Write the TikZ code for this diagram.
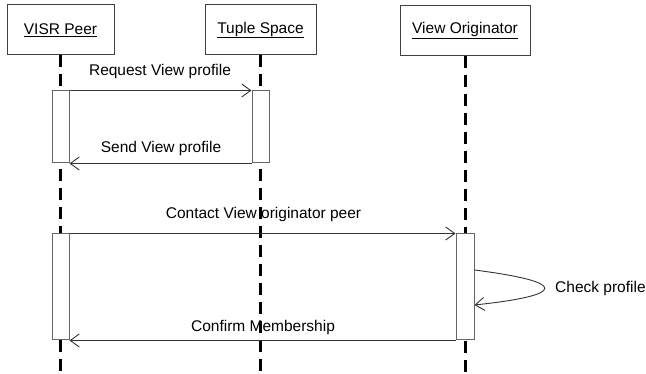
\documentclass[tikz,border=0pt]{standalone}
\usepackage{fontspec}
\setmainfont{Liberation Sans}
\usetikzlibrary{arrows.meta}
\begin{document}
\begin{tikzpicture}[x=1pt,y=-1pt,
  font=\fontsize{15.5}{18}\selectfont,
  head/.style={draw=black!75, line width=1pt, minimum height=50pt, inner sep=0pt, fill=white},
  lifeline/.style={line width=3pt, dash pattern=on 12pt off 7pt},
  actbox/.style={draw=black!60, line width=1pt, fill=white, minimum width=17pt, inner sep=0pt},
  msg/.style={draw=black!80, line width=0.9pt, -{Straight Barb[length=9pt,width=13pt,line width=0.9pt]}},
  lbl/.style={anchor=base, inner sep=0pt}]
\useasboundingbox (0,0) rectangle (646,374);

% object heads
\node[head, minimum width=107pt] (visr)  at (60.5,30)  {\underline{VISR Peer}};
\node[head, minimum width=111pt] (tuple) at (260.5,30) {\underline{Tuple Space}};
\node[head, minimum width=130pt] (orig)  at (465,30.5) {\underline{View Originator}};

% lifeline ends
\coordinate (visrEnd)  at (visr.south  |- 0,374);
\coordinate (tupleEnd) at (tuple.south |- 0,374);
\coordinate (origEnd)  at (orig.south  |- 0,374);
\draw[lifeline] (visr.south)  -- (visrEnd);
\draw[lifeline] (tuple.south) -- (tupleEnd);
\draw[lifeline] (orig.south)  -- (origEnd);

% activation bars
\node[actbox, minimum height=72pt]  (a1) at (60.5,127)  {};
\node[actbox, minimum height=72pt]  (a2) at (260.5,127) {};
\node[actbox, minimum height=106pt] (a3) at (60.5,287)  {};
\node[actbox, minimum height=106pt, minimum width=18pt] (a4) at (465,287) {};

% messages
\draw[msg] (a1.north east) -- (a2.north west);
\draw[msg] (a2.south west) -- (a1.south east);
\draw[msg] (a3.north east) -- (a4.north west);
\draw[msg] (a4.south west) -- (a3.south east);
\coordinate (selfA) at ([yshift=17pt]a4.east);
\coordinate (selfB) at ([yshift=-18pt]a4.east);
\draw[msg] (selfA) .. controls (568,282) and (568,295) .. (selfB);

% message labels
\node[lbl] (l1) at (160,76)  {Request View profile};
\node[lbl] (l2) at (161,153) {Send View profile};
\node[lbl] (l3) at (263.5,219) {Contact View originator peer};
\node[lbl] (l4) at (263,332) {Confirm Membership};
\node[inner sep=0pt, anchor=west] (l5) at (555,288) {Check profile};
\end{tikzpicture}
\end{document}
